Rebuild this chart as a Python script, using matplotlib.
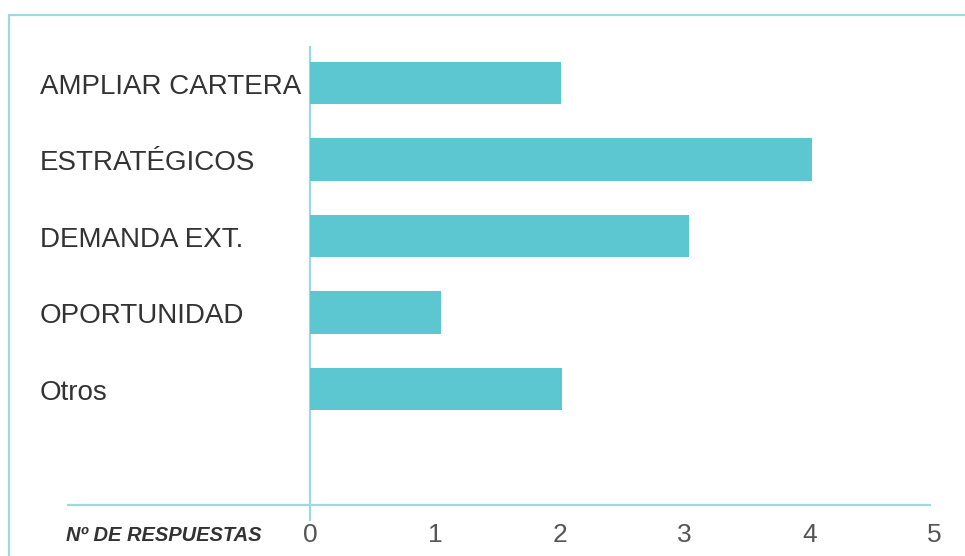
import matplotlib.pyplot as plt
from matplotlib.patches import Rectangle
from matplotlib.transforms import blended_transform_factory

categories = ['AMPLIAR CARTERA', 'ESTRATÉGICOS', 'DEMANDA EXT.', 'OPORTUNIDAD', 'Otros']
values = [2.01, 4.02, 3.04, 1.05, 2.02]
ticks = [0, 1, 2, 3, 4, 5]

bar_color = '#5dc7d1'
line_color = '#9ed9e0'

plt.rcParams['font.family'] = ['Liberation Sans', 'DejaVu Sans']

fig = plt.figure(figsize=(9.65, 5.56), dpi=100)
fig.patch.set_facecolor('white')

# light frame around the chart (cut off at right and bottom)
frame = Rectangle((9 / 965, -0.2), 1.2, 1 - 15 / 556 + 0.2, transform=fig.transFigure,
                  fill=False, edgecolor=line_color, linewidth=1.6, clip_on=False)
fig.patches.append(frame)

ax = fig.add_axes([68 / 965, 51 / 556, 866 / 965, 475 / 556])
ax.set_xlim(-1.94, 5.0)
ax.set_ylim(5.516, -0.693)

ax.barh(range(len(categories)), values, height=0.55, color=bar_color)

for s in ax.spines.values():
    s.set_visible(False)
ax.spines['bottom'].set_visible(True)
ax.spines['bottom'].set_bounds(-1.94, 4.97)
ax.spines['bottom'].set_color(line_color)
ax.spines['bottom'].set_linewidth(1.6)

# vertical zero line, running a bit below the bottom line
ax.plot([0, 0], [-0.47, 5.71], color=line_color, lw=1.6, clip_on=False, zorder=0)

ax.set_xticks(ticks)
ax.set_xticklabels([str(t) for t in ticks])
ax.tick_params(axis='x', length=0, pad=13, labelsize=19, labelcolor='#555555')
ax.set_yticks([])

tr = blended_transform_factory(fig.transFigure, ax.transData)
for i, c in enumerate(categories):
    ax.text(40 / 965, i + 0.05, c, transform=tr, ha='left', va='center',
            fontsize=20, color='#333333')

ax.text(-1.955, 5.91, 'Nº DE RESPUESTAS', ha='left', va='center', fontsize=14.5,
        fontweight='bold', fontstyle='italic', color='#333333', clip_on=False)

fig.savefig('out.png', dpi=100, facecolor='white')
